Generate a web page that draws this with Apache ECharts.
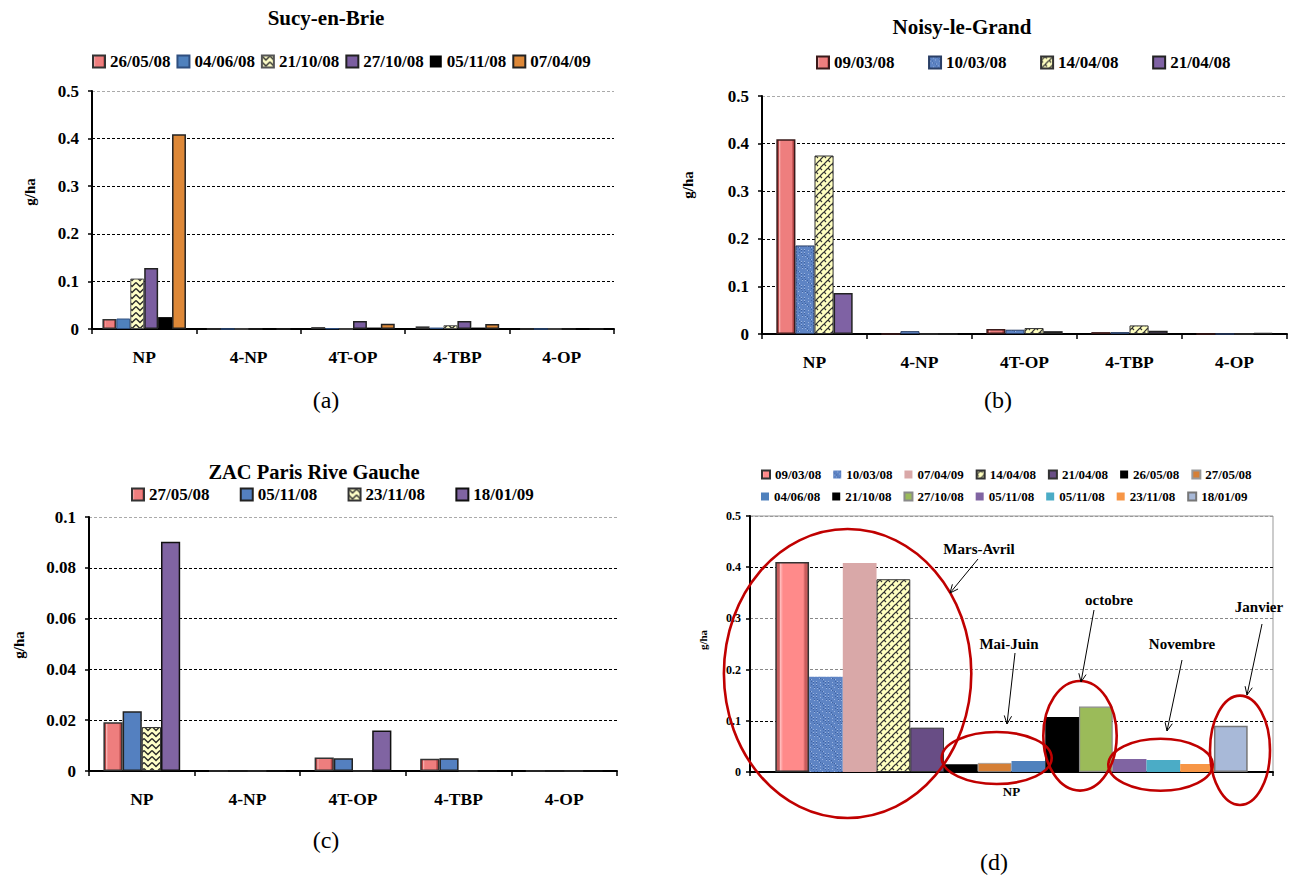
<!DOCTYPE html>
<html><head><meta charset="utf-8">
<script src="https://cdn.jsdelivr.net/npm/echarts@6/dist/echarts.min.js"></script>
<style>
html,body{margin:0;padding:0;background:#fff;}
body{position:relative;width:1292px;height:880px;overflow:hidden;}
.p{position:absolute;left:0;top:0;width:1292px;height:880px;}
</style>
</head><body>
<div id="pa" class="p"></div><div id="pb" class="p"></div><div id="pc" class="p"></div><div id="pd" class="p"></div>
<script>
// ---------------- DATA ----------------
const categories = ['NP', '4-NP', '4T-OP', '4-TBP', '4-OP'];

// (a) Sucy-en-Brie
const aTitle = 'Sucy-en-Brie';
const aNames = ['26/05/08', '04/06/08', '21/10/08', '27/10/08', '05/11/08', '07/04/09'];
const a_260508 = [0.021, 0, 0.004, 0.0055, 0];
const a_040608 = [0.022, 0, 0.0015, 0.003, 0];
const a_211008 = [0.106, 0, 0, 0.008, 0];
const a_271008 = [0.128, 0, 0.017, 0.017, 0];
const a_051108 = [0.025, 0, 0.003, 0.003, 0];
const a_070409 = [0.409, 0, 0.011, 0.0105, 0];

// (b) Noisy-le-Grand
const bTitle = 'Noisy-le-Grand';
const bNames = ['09/03/08', '10/03/08', '14/04/08', '21/04/08'];
const b_090308 = [0.409, 0, 0.0105, 0.004, 0];
const b_100308 = [0.186, 0.006, 0.009, 0.004, 0];
const b_140408 = [0.375, 0, 0.0125, 0.018, 0];
const b_210408 = [0.086, 0, 0.006, 0.007, 0.002];

// (c) ZAC Paris Rive Gauche
const cTitle = 'ZAC Paris Rive Gauche';
const cNames = ['27/05/08', '05/11/08', '23/11/08', '18/01/09'];
const c_270508 = [0.0192, 0, 0.0053, 0.0048, 0];
const c_051108 = [0.0235, 0, 0.005, 0.005, 0];
const c_231108 = [0.0173, 0, 0, 0, 0];
const c_180109 = [0.0903, 0, 0.0159, 0, 0];

// (d) all NP campaigns
const dCategories = ['NP'];
const dNames = ['09/03/08', '10/03/08', '07/04/09', '14/04/08', '21/04/08', '26/05/08', '27/05/08',
                '04/06/08', '21/10/08', '27/10/08', '05/11/08', '05/11/08\u200B', '23/11/08', '18/01/09'];
const dValues = [0.41, 0.186, 0.408, 0.3765, 0.0866, 0.015, 0.0176, 0.0215, 0.1075, 0.1277, 0.0254, 0.0235, 0.0156, 0.0905];
const dAnnotations = ['Mars-Avril', 'octobre', 'Janvier', 'Mai-Juin', 'Novembre'];
const captions = ['(a)', '(b)', '(c)', '(d)'];
const yName = 'g/ha';

// ---------------- STYLE HELPERS ----------------
const FONT = "'Liberation Serif', 'Times New Roman', serif";
function pat(w, h, bg, draw) {
  const c = document.createElement('canvas'); c.width = w; c.height = h;
  const g = c.getContext('2d'); g.fillStyle = bg; g.fillRect(0, 0, w, h); draw(g);
  return { image: c.toDataURL(), repeat: 'repeat' };
}
const zigzag = pat(8, 6, '#FFFFC8', g => {
  g.strokeStyle = '#2a2a2a'; g.lineWidth = 1.4; g.beginPath();
  g.moveTo(0, 0.5); g.lineTo(4, 4.5); g.lineTo(8, 0.5); g.stroke();
});
const weave = pat(8, 8, '#FFFFC0', g => {
  g.strokeStyle = '#333'; g.lineWidth = 1.2; g.beginPath();
  g.moveTo(0, 4); g.lineTo(4, 0); g.moveTo(4, 8); g.lineTo(8, 4);
  g.moveTo(4, 0); g.lineTo(6, 2); g.moveTo(0, 4); g.lineTo(2, 6);
  g.stroke();
});
const blueTex = pat(12, 12, '#5E84C4', g => {
  for (let i = 0; i < 12; i++) for (let j = 0; j < 12; j++) {
    const h = (i * 7 + j * 13 + i * j) % 9;
    if (h === 0) { g.fillStyle = '#9AB4E0'; g.fillRect(i, j, 1, 1); }
    else if (h === 4) { g.fillStyle = '#3F63A3'; g.fillRect(i, j, 1, 1); }
  }
});
function bevel(dark, mid, light) {
  return { type: 'linear', x: 0, y: 0, x2: 1, y2: 0, colorStops: [
    { offset: 0, color: dark }, { offset: 0.1, color: dark }, { offset: 0.13, color: light },
    { offset: 0.22, color: mid }, { offset: 0.84, color: mid }, { offset: 0.9, color: dark }, { offset: 1, color: dark }] };
}
const redBevel = bevel('#B84848', '#EE7E7E', '#F8B4B4');
const redBevelD = bevel('#C85C5C', '#FF8A8A', '#FFC0C0');

function labelStyle(fs) { return { fontFamily: FONT, fontWeight: 'bold', fontSize: fs, color: '#000' }; }

function panelAxes(g, max, interval, xfs, xMargin, yfs, yMargin, lineColors, tickLen) {
  return {
    grid: Object.assign({ left: g.left, top: g.top, width: g.width, height: g.height, outerBoundsMode: 'none' }, g.frame || {}),
    xAxis: { type: 'category', data: g.cats,
      axisLine: { show: true, lineStyle: { color: '#000', width: 2 } },
      axisTick: { show: true, length: tickLen, lineStyle: { color: '#000', width: 1.5 } },
      axisLabel: Object.assign(labelStyle(xfs), { margin: xMargin }) },
    yAxis: { type: 'value', min: 0, max: max, interval: interval,
      axisLine: { show: true, onZero: false, lineStyle: { color: '#000', width: 2 } },
      axisTick: { show: true, length: 4, lineStyle: { color: '#000', width: 1.5 } },
      axisLabel: Object.assign(labelStyle(yfs), { margin: yMargin }),
      splitLine: { show: true, lineStyle: { color: lineColors, type: [3, 2], width: 1 } } }
  };
}
function legendCfg(names, left, top, fs, iw, gap) {
  return { data: names, left: left, top: top, padding: 0, itemGap: gap, itemWidth: iw, itemHeight: iw,
    icon: 'rect', selectedMode: false, orient: 'horizontal', textStyle: labelStyle(fs) };
}
function txt(t, x, y, fs, weight, rot) {
  return { type: 'text', x: x, y: y, z: 100, rotation: rot || 0,
    style: { text: t, fontFamily: FONT, fontSize: fs, fontWeight: weight, fill: '#000', align: 'center', verticalAlign: 'middle' } };
}
function barSeries(names, vals, styles, gap) {
  return names.map((n, i) => ({ name: n, type: 'bar', data: vals[i],
    barGap: 0, barCategoryGap: gap, itemStyle: styles[i], emphasis: { disabled: true } }));
}
const gridLines6 = ['#000', '#000', '#000', '#000', '#000', '#aaa'];
const ROT = Math.PI / 2;

function makeChart(id, opt) {
  const ch = echarts.init(document.getElementById(id), null, { renderer: 'svg', width: 1292, height: 880 });
  opt.animation = false;
  ch.setOption(opt);
}

// ---------------- (a) ----------------
makeChart('pa', Object.assign(
  panelAxes({ left: 92, top: 91, width: 522, height: 238, cats: categories },
            0.5, 0.1, 17.5, 19, 17, 13, gridLines6, 5), {
  legend: legendCfg(aNames, 92, 53, 17, 12, 6),
  series: barSeries(aNames, [a_260508, a_040608, a_211008, a_271008, a_051108, a_070409], [
    { color: redBevel, borderColor: '#333', borderWidth: 1.5 },
    { color: '#4F81BD', borderColor: '#2F4F7F', borderWidth: 1 },
    { color: zigzag, borderColor: '#555', borderWidth: 1 },
    { color: '#7B5EA0', borderColor: '#222', borderWidth: 1.5 },
    { color: '#000' },
    { color: '#DD8838', borderColor: '#222', borderWidth: 1.5 }], '20%'),
  graphic: [txt(aTitle, 326, 18, 21, 'bold'), txt(captions[0], 326, 400, 24, 'normal'),
            txt(yName, 30, 192, 15, 'bold', ROT)]
}));

// ---------------- (b) ----------------
makeChart('pb', Object.assign(
  panelAxes({ left: 762, top: 96, width: 525, height: 238, cats: categories },
            0.5, 0.1, 17.5, 19, 17, 13, gridLines6, 5), {
  legend: legendCfg(bNames, 816, 54, 17, 12, 33.6),
  series: barSeries(bNames, [b_090308, b_100308, b_140408, b_210408], [
    { color: redBevel, borderColor: '#3A1A1A', borderWidth: 1.5 },
    { color: blueTex, borderColor: '#2A3F66', borderWidth: 1 },
    { color: weave, borderColor: '#333', borderWidth: 1 },
    { color: '#7F62A4', borderColor: '#222', borderWidth: 1.5 }], '27.3%'),
  graphic: [txt(bTitle, 962, 27, 21, 'bold'), txt(captions[1], 998, 400, 24, 'normal'),
            txt(yName, 688, 185, 15, 'bold', ROT)]
}));

// ---------------- (c) ----------------
makeChart('pc', Object.assign(
  panelAxes({ left: 89, top: 517, width: 528, height: 254, cats: categories },
            0.1, 0.02, 17.5, 19, 17, 13, gridLines6, 5), {
  legend: legendCfg(cNames, 131, 486, 17, 12, 30.3),
  series: barSeries(cNames, [c_270508, c_051108, c_231108, c_180109], [
    { color: redBevel, borderColor: '#333', borderWidth: 1.5 },
    { color: '#5480C0', borderColor: '#222', borderWidth: 1.5 },
    { color: zigzag, borderColor: '#333', borderWidth: 1 },
    { color: '#8064A2', borderColor: '#111', borderWidth: 1.5 }], '27.3%'),
  graphic: [txt(cTitle, 314, 472, 20.5, 'bold'), txt(captions[2], 326, 840, 24, 'normal'),
            txt(yName, 19, 645, 15, 'bold', ROT)]
}));

// ---------------- (d) ----------------
const dStyles = [
  { color: redBevelD, borderColor: '#333', borderWidth: 1.5 },
  { color: blueTex },
  { color: '#D9A8A8' },
  { color: weave, borderColor: '#333', borderWidth: 1 },
  { color: '#684D85', borderColor: '#333', borderWidth: 1 },
  { color: '#000' },
  { color: '#D57F36', borderColor: '#999', borderWidth: 0.8 },
  { color: '#4F81BD' },
  { color: '#000' },
  { color: '#9BBB59', borderColor: '#8a8a8a', borderWidth: 1.2 },
  { color: '#8064A2' },
  { color: '#4BACC6' },
  { color: '#F79646' },
  { color: '#A8B9D8', borderColor: '#777', borderWidth: 1.5 }];
function arrow(x1, y1, x2, y2) {
  const ang = Math.atan2(y2 - y1, x2 - x1), L = 9, A = 0.42;
  return [
    { type: 'line', z: 100, shape: { x1: x1, y1: y1, x2: x2, y2: y2 }, style: { stroke: '#000', lineWidth: 1 } },
    { type: 'polyline', z: 100, shape: { points: [[x2 - L * Math.cos(ang - A), y2 - L * Math.sin(ang - A)], [x2, y2],
      [x2 - L * Math.cos(ang + A), y2 - L * Math.sin(ang + A)]] }, style: { stroke: '#000', fill: null, lineWidth: 1 } }];
}
function ell(cx, cy, rx, ry) {
  return { type: 'ellipse', z: 90, shape: { cx: cx, cy: cy, rx: rx, ry: ry }, style: { fill: null, stroke: '#C00000', lineWidth: 2.6 } };
}
makeChart('pd', Object.assign(
  panelAxes({ left: 750, top: 516, width: 523, height: 256, cats: dCategories,
              frame: { show: true, borderColor: '#999', borderWidth: 1 } },
            0.5, 0.1, 13, 13, 12, 9, ['#000', '#000', '#888', '#888', '#000', '#999'], 4), {
  legend: [legendCfg(dNames.slice(0, 7), 761, 468, 13, 8, 12), legendCfg(dNames.slice(7), 761, 490, 13, 8, 12)],
  series: dNames.map((n, i) => ({ name: n, type: 'bar', data: [dValues[i]],
    barGap: 0, barCategoryGap: '9.68%', itemStyle: dStyles[i], emphasis: { disabled: true } })),
  graphic: [].concat(
    [ell(847.6, 673.5, 123.7, 144.5), ell(996.7, 758, 55, 26), ell(1080, 735.8, 36.7, 54.8),
     ell(1160.5, 764.7, 52.2, 26), ell(1240, 750.3, 30, 54.7)],
    arrow(978, 559, 950, 593), arrow(1094, 610, 1081, 682), arrow(1262, 624, 1247, 695),
    arrow(1015, 653, 1007, 724), arrow(1182, 660, 1167, 731),
    [txt(dAnnotations[0], 979, 549, 15, 'bold'), txt(dAnnotations[1], 1109, 600, 15, 'bold'),
     txt(dAnnotations[2], 1259, 607, 15, 'bold'), txt(dAnnotations[3], 1009, 644, 15, 'bold'),
     txt(dAnnotations[4], 1182, 644, 15, 'bold'), txt(captions[3], 994, 862, 24, 'normal'),
     txt(yName, 703, 640, 11, 'bold', ROT)])
}));
</script>
</body></html>
